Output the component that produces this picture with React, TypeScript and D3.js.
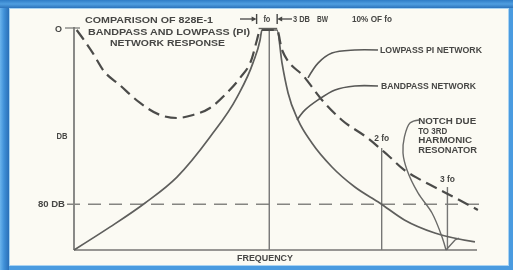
import React from "react";
import * as d3 from "d3";

const W = 513;
const H = 270;

// frequency in units of fo (log axis), attenuation in dB (0 at top)
const freqDomain = [0.3, 3.6];
const dbDomain = [0, 101];

const lowpassFreq = [0.305, 0.337, 0.359, 0.398, 0.451, 0.51, 0.566, 0.625, 0.694, 0.77, 0.835, 0.899, 0.927, 0.945, 1.049, 1.082, 1.247, 1.384, 1.564, 1.834, 2.075, 2.301, 2.55, 2.97, 3.62];
const lowpassDb = [0, 10.6, 18.4, 25.3, 33.5, 39.0, 40.4, 39.0, 35.8, 28.9, 22.0, 12.9, 4.6, 0, 0, 9.2, 22.0, 32.1, 41.3, 49.6, 57.4, 64.3, 68.9, 74.8, 82.6];

const bandpassFreq = [0.3, 0.375, 0.465, 0.566, 0.694, 0.82, 0.904, 0.945, 0.956, 1.049, 1.082, 1.123, 1.194, 1.301, 1.472, 1.695, 1.976, 2.301, 2.776, 3.555];
const bandpassDb = [101, 90.4, 79.4, 67.5, 49.1, 30.8, 15.2, 4.6, 0, 0, 15.2, 28.9, 41.3, 51.9, 62.9, 72.1, 79.4, 87.2, 93.2, 97.3];

const notchFreq = [2.52, 2.381, 2.301, 2.281, 2.338, 2.502, 2.728, 2.902, 2.974];
const notchDb = [41.3, 42.7, 49.1, 56.5, 64.3, 74.8, 84.0, 95.0, 101];
const notchRiseFreq = [2.974, 3.143, 3.22];
const notchRiseDb = [101, 96.4, 95.6];

const lpLeaderFreq = [1.955, 1.695, 1.472, 1.351, 1.27];
const lpLeaderDb = [9.2, 9.2, 10.6, 15.2, 22.0];
const bpLeaderFreq = [1.955, 1.695, 1.5, 1.351, 1.247, 1.187];
const bpLeaderDb = [25.7, 25.7, 27.5, 32.1, 36.7, 41.3];

const harmonics = [1, 2, 3];
const harmonicTopDb = [0, 54.2, 72.1];
const harmonicLabels = ["", "2 fo", "3 fo"];
const harmonicLabelDb = [0, 49.6, 68.4];

const refDb = 80;
const bwFreq = [0.925, 1.05];

const titleLines = ["COMPARISON OF 828E-1", "BANDPASS AND LOWPASS (PI)", "NETWORK RESPONSE"];
const notchLines = ["NOTCH DUE", "TO 3RD", "HARMONIC", "RESONATOR"];

const INK = "#474745";
const LINE = "#5e5e5c";

export default function App() {
  const x = d3.scaleLog().domain(freqDomain).range([74, 477]);
  const y = d3.scaleLinear().domain(dbDomain).range([30, 250]);
  const zip = (a: number[], b: number[]) => a.map((v, i) => [v, b[i]] as [number, number]);
  const mono = d3.line<[number, number]>().x((d) => x(d[0])).y((d) => y(d[1])).curve(d3.curveMonotoneX);
  const curvy = d3.line<[number, number]>().x((d) => x(d[0])).y((d) => y(d[1])).curve(d3.curveCatmullRom.alpha(0.5));
  const straight = d3.line<[number, number]>().x((d) => x(d[0])).y((d) => y(d[1]));

  const x0 = x(freqDomain[0]);
  const x1 = x(freqDomain[1]);
  const yTop = y(0);
  const yBot = y(dbDomain[1]);
  const font = "'Liberation Sans', Arial, sans-serif";
  const txt = (s: string, tx: number, ty: number, len: number, size = 8.8, anchor = "start") => (
    <text
      x={tx}
      y={ty}
      fontSize={size}
      fontWeight="bold"
      fontFamily={font}
      fill={INK}
      textAnchor={anchor}
      dominantBaseline="central"
      textLength={len}
      lengthAdjust="spacingAndGlyphs"
    >
      {s}
    </text>
  );

  const rowY = 19;
  const bwL = x(bwFreq[0]);
  const bwR = x(bwFreq[1]);

  return (
    <svg width={W} height={H} style={{ position: "absolute", left: 0, top: 0 }}>
      <defs>
        <filter id="soft" x="-5%" y="-5%" width="110%" height="110%">
          <feGaussianBlur stdDeviation="0.55" />
        </filter>
        <linearGradient id="topband" x1="0" y1="0" x2="0" y2="1">
          <stop offset="0" stopColor="#2f7cc6" />
          <stop offset="0.5" stopColor="#4f9ee0" />
          <stop offset="1" stopColor="#2c73bb" />
        </linearGradient>
        <linearGradient id="leftband" x1="0" y1="0" x2="1" y2="0">
          <stop offset="0" stopColor="#6bb4ec" />
          <stop offset="0.45" stopColor="#3f90d8" />
          <stop offset="1" stopColor="#2a6fb6" />
        </linearGradient>
      </defs>
      {/* frame */}
      <rect x={0} y={0} width={W} height={H} fill="#4a9be0" />
      <rect x={0} y={0} width={9} height={H} fill="url(#leftband)" />
      <rect x={0} y={0} width={W} height={8} fill="url(#topband)" />
      <rect x={9} y={8} width={500} height={258} fill="#fbfaf3" />
      <rect x={9.5} y={8.5} width={499} height={257} fill="none" stroke="#a9d3f2" strokeWidth={1} />

      <g filter="url(#soft)">
        {/* axes */}
        <line x1={x0} y1={yTop - 3} x2={x0} y2={yBot} stroke="#767674" strokeWidth={1.7} />
        <line x1={x0} y1={yBot} x2={x1} y2={yBot} stroke="#767674" strokeWidth={1.7} />
        <line x1={65} y1={yTop - 2} x2={x0 + 6} y2={yTop - 2} stroke="#767674" strokeWidth={1.2} />
        {/* 80 dB reference */}
        <line
          x1={67}
          y1={y(refDb)}
          x2={485}
          y2={y(refDb)}
          stroke="#858581"
          strokeWidth={1.7}
          strokeDasharray="13 8"
        />
        {/* harmonic markers */}
        {harmonics.map((h, i) => (
          <line key={h} x1={x(h)} y1={y(harmonicTopDb[i])} x2={x(h)} y2={yBot} stroke="#767674" strokeWidth={1.4} />
        ))}
        {/* bandpass */}
        <path d={mono(zip(bandpassFreq, bandpassDb)) || ""} fill="none" stroke={LINE} strokeWidth={1.7} />
        {/* notch */}
        <path d={curvy(zip(notchFreq, notchDb)) || ""} fill="none" stroke="#6a6a68" strokeWidth={1.4} />
        <path d={straight(zip(notchRiseFreq, notchRiseDb)) || ""} fill="none" stroke="#6a6a68" strokeWidth={1.4} />
        {/* lowpass */}
        <path
          d={mono(zip(lowpassFreq, lowpassDb)) || ""}
          fill="none"
          stroke="#4c4c4a"
          strokeWidth={2.2}
          strokeDasharray="12 6"
        />
        {/* peak top box */}
        <line x1={bwL + 2} y1={yTop - 1.5} x2={bwR} y2={yTop - 1.5} stroke={LINE} strokeWidth={1.4} />
        {/* leaders */}
        <path d={curvy(zip(lpLeaderFreq, lpLeaderDb)) || ""} fill="none" stroke="#585856" strokeWidth={1.6} />
        <path d={curvy(zip(bpLeaderFreq, bpLeaderDb)) || ""} fill="none" stroke="#585856" strokeWidth={1.6} />

        {/* bandwidth marker row */}
        <line x1={240} y1={rowY} x2={bwL - 4} y2={rowY} stroke={INK} strokeWidth={1.3} />
        <path d={`M${bwL - 5},${rowY - 2.5} L${bwL},${rowY} L${bwL - 5},${rowY + 2.5} Z`} fill={INK} />
        <line x1={bwL} y1={rowY - 5} x2={bwL} y2={rowY + 5} stroke={INK} strokeWidth={1.4} />
        <line x1={bwR} y1={rowY - 5} x2={bwR} y2={rowY + 5} stroke={INK} strokeWidth={1.4} />
        <path d={`M${bwR + 5},${rowY - 2.5} L${bwR},${rowY} L${bwR + 5},${rowY + 2.5} Z`} fill={INK} />
        <line x1={bwR + 4} y1={rowY} x2={292} y2={rowY} stroke={INK} strokeWidth={1.3} />
        {txt("fo", (bwL + bwR) / 2, rowY, 7, 8.8, "middle")}
        {txt("3 DB", 293, rowY, 17, 9)}
        {txt("BW", 317, rowY, 11, 9)}
        {txt("10% OF fo", 352, rowY, 40, 9)}

        {/* title */}
        {txt(titleLines[0], 85, 20, 128, 9.2)}
        {txt(titleLines[1], 88, 32, 162, 9.2)}
        {txt(titleLines[2], 110, 42.5, 115, 9.2)}

        {/* axis labels */}
        {txt("O", 58.5, yTop - 2, 7, 9.5, "middle")}
        {txt("DB", 62, 136, 11, 9, "middle")}
        {txt("80 DB", 38, y(refDb), 27, 9)}
        {txt("FREQUENCY", 265, 258, 56, 8.6, "middle")}

        {harmonics.slice(1).map((h, i) => (
          <g key={h}>{txt(harmonicLabels[i + 1], x(h), y(harmonicLabelDb[i + 1]), 15, 8.8, "middle")}</g>
        ))}

        {txt("LOWPASS PI NETWORK", x(lpLeaderFreq[0]) + 2, y(lpLeaderDb[0]), 102)}
        {txt("BANDPASS NETWORK", x(bpLeaderFreq[0]) + 3, y(bpLeaderDb[0]), 95)}
        {notchLines.map((s, i) => (
          <g key={s}>{txt(s, x(notchFreq[0]) - 1, 121 + i * 9.5, [58, 29, 54, 59][i], 8.8)}</g>
        ))}
      </g>
    </svg>
  );
}
